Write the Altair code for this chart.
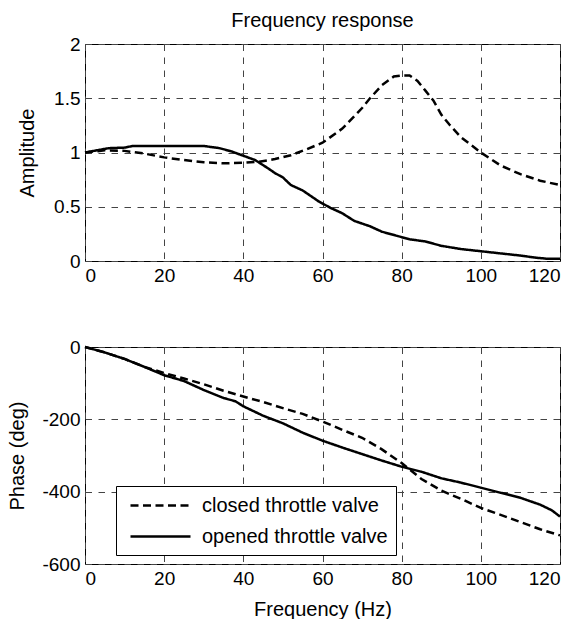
import altair as alt
import pandas as pd

FONT = "Liberation Sans"
SERIES = ["closed throttle valve", "opened throttle valve"]
X_TICKS = [0, 20, 40, 60, 80, 100, 120]
AMP_TICKS = [0, 0.5, 1, 1.5, 2]
PHASE_TICKS = [-600, -400, -200, 0]

# Amplitude, closed throttle valve
amp_closed_f = [0, 5, 10, 15, 20, 25, 30, 35, 40, 44, 48, 52, 56, 60, 65, 70, 72, 75,
                78, 80, 82, 84, 86, 88, 90, 92, 95, 100, 105, 110, 115, 120]
amp_closed = [1.00, 1.02, 1.015, 0.99, 0.955, 0.93, 0.91, 0.90, 0.905, 0.915, 0.94, 0.975,
              1.03, 1.09, 1.22, 1.41, 1.50, 1.62, 1.70, 1.71, 1.71, 1.66, 1.57, 1.48,
              1.35, 1.26, 1.14, 1.00, 0.88, 0.80, 0.74, 0.70]

# Amplitude, opened throttle valve
amp_opened_f = [0, 3, 6, 10, 12, 20, 30, 34, 37, 40, 43, 46, 48, 50, 52, 55, 59, 62, 65,
                68, 72, 75, 79, 82, 86, 90, 95, 100, 105, 110, 114, 117, 120]
amp_opened = [1.00, 1.02, 1.04, 1.045, 1.06, 1.06, 1.06, 1.04, 1.01, 0.97, 0.93, 0.86,
              0.81, 0.77, 0.70, 0.65, 0.55, 0.49, 0.44, 0.37, 0.32, 0.27, 0.23, 0.20,
              0.18, 0.14, 0.11, 0.09, 0.07, 0.05, 0.03, 0.02, 0.02]

# Phase, closed throttle valve
ph_closed_f = [0, 5, 10, 15, 20, 25, 30, 35, 40, 45, 50, 55, 60, 65, 70, 75, 80, 85, 90,
               95, 100, 105, 110, 115, 120]
ph_closed = [0, -15, -33, -55, -72, -87, -103, -121, -137, -152, -169, -185, -206, -229,
             -251, -283, -321, -365, -397, -420, -445, -464, -484, -504, -521]

# Phase, opened throttle valve
ph_opened_f = [0, 5, 10, 15, 20, 25, 30, 35, 38, 40, 45, 50, 55, 60, 65, 70, 75, 80, 85,
               90, 95, 100, 105, 110, 115, 118, 120]
ph_opened = [0, -15, -33, -55, -78, -94, -119, -141, -150, -164, -190, -211, -237, -259,
             -278, -296, -314, -331, -345, -363, -375, -389, -403, -417, -436, -452, -469]


def frame(fa, va, fb, vb):
    return pd.DataFrame({
        "f": fa + fb,
        "v": va + vb,
        "s": [SERIES[0]] * len(fa) + [SERIES[1]] * len(fb),
    })


amp_df = frame(amp_closed_f, amp_closed, amp_opened_f, amp_opened)
ph_df = frame(ph_closed_f, ph_closed, ph_opened_f, ph_opened)

dash_scale = alt.Scale(domain=SERIES, range=[[8, 4.5], [1, 0]])
x_scale = alt.Scale(domain=[0, 120], nice=False, zero=False)

top = alt.Chart(
    amp_df,
    title=alt.Title("Frequency response", anchor="middle", frame="group", offset=4,
                    fontSize=20, font=FONT, fontWeight="normal", color="black"),
).mark_line(color="black", strokeWidth=2.5).encode(
    x=alt.X("f:Q", scale=x_scale,
            axis=alt.Axis(values=X_TICKS, title=None, labelExpr="'' + datum.value")),
    y=alt.Y("v:Q", scale=alt.Scale(domain=[0, 2], nice=False),
            axis=alt.Axis(values=AMP_TICKS, title="Amplitude", titleX=-58,
                          titleBaseline="middle", labelExpr="'' + datum.value")),
    strokeDash=alt.StrokeDash("s:N", scale=dash_scale, legend=None),
).properties(width=475, height=217)

bottom = alt.Chart(ph_df).mark_line(color="black", strokeWidth=2.5).encode(
    x=alt.X("f:Q", scale=x_scale,
            axis=alt.Axis(values=X_TICKS, title="Frequency (Hz)", titleY=35,
                          titleBaseline="top", labelExpr="'' + datum.value")),
    y=alt.Y("v:Q", scale=alt.Scale(domain=[-600, 0], nice=False),
            axis=alt.Axis(values=PHASE_TICKS, title="Phase (deg)", titleX=-68,
                          titleBaseline="middle", labelExpr="'' + datum.value")),
    strokeDash=alt.StrokeDash(
        "s:N", scale=dash_scale, title=None,
        legend=alt.Legend(
            orient="none", legendX=31, legendY=139, direction="vertical",
            symbolType="M-0.5,0H5.5", symbolSize=400, symbolStrokeWidth=2.5,
            symbolStrokeColor="black", labelOffset=55, labelFontSize=20,
            labelFont=FONT, labelColor="black", labelLimit=400, padding=8,
            rowPadding=9, strokeColor="black", fillColor="white", cornerRadius=0,
        ),
    ),
).properties(width=475, height=217)

chart = alt.vconcat(top, bottom, spacing=86, bounds="flush").resolve_scale(
    strokeDash="independent"
).resolve_legend(
    strokeDash="independent"
).properties(
    padding={"left": 6, "top": 10, "right": 0, "bottom": 0}
).configure(
    font=FONT
).configure_view(
    stroke="black", strokeWidth=1
).configure_axis(
    domain=False, ticks=False, grid=True, gridDash=[6.5, 6.5], gridColor="#444444",
    gridWidth=1, gridOpacity=1, labelFont=FONT, labelFontSize=19, labelColor="black",
    labelPadding=5, titleFont=FONT, titleFontSize=20, titleFontWeight="normal",
    titleColor="black",
)

chart.save("out.html", embed_options={"renderer": "svg", "actions": False})
